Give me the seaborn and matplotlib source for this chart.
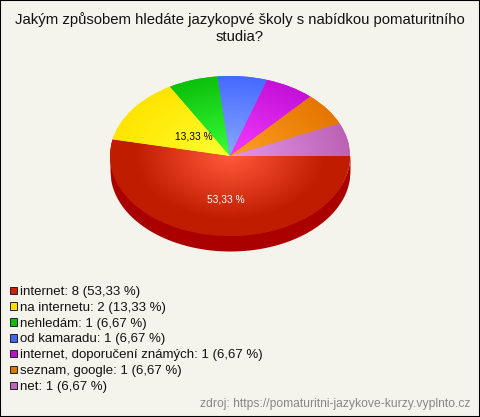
import numpy as np
import matplotlib
matplotlib.use('Agg')
import matplotlib.pyplot as plt
import seaborn as sns
from matplotlib.colors import LinearSegmentedColormap
from matplotlib.patches import Patch, Rectangle

# data
categories = ['internet', 'na internetu', 'nehledám', 'od kamaradu',
              'internet, doporučení známých', 'seznam, google', 'net']
counts = [8, 2, 1, 1, 1, 1, 1]
percents = ['53,33', '13,33', '6,67', '6,67', '6,67', '6,67', '6,67']
title = 'Jakým způsobem hledáte jazykopvé školy s nabídkou pomaturitního\nstudia?'
source = 'zdroj: https://pomaturitni-jazykove-kurzy.vyplnto.cz'

# colours: legend swatch, gradient centre, gradient rim, where the rim colour starts
swatch = ['#cc2200', '#ffdd00', '#11bb11', '#4466ee', '#bb11cc', '#dd7700', '#bb66bb']
inner = ['#ff5a3c', '#ffff30', '#38ff38', '#88a8ff', '#f53cff', '#ffa024', '#e496ea']
outer = ['#c01c00', '#ffe400', '#0cc00c', '#466aff', '#c410d8', '#e47600', '#bc62b4']
rim_at = [0.8, 1, 1, 1, 1, 1, 1]
bg = '#f5f4ec'
side = '#aa0000'

sns.set_theme(style='white')
plt.rcParams['font.family'] = ['Liberation Sans', 'DejaVu Sans']
palette = sns.color_palette(swatch)

fig = plt.figure(figsize=(4.8, 4.17), dpi=100, facecolor=bg)
ax = fig.add_axes([0, 0, 1, 1])

# ellipse centre at (230, 156) px, radii 120 x 80 px, side 15 px deep
depth = 15 / 80
wedges, _ = ax.pie(counts, startangle=0, counterclock=False, colors=outer,
                   wedgeprops={'linewidth': 0})

xs = np.linspace(-1, 1, 300)
ax.fill_between(xs, -np.sqrt(1 - xs**2) - depth, -np.sqrt(1 - xs**2) + 0.02,
                color=side, linewidth=0, zorder=0.5)

# radial gradient per slice
gx, gy = np.meshgrid(np.linspace(-1, 1, 400), np.linspace(-1, 1, 400))
rr = np.clip(np.sqrt(gx**2 + gy**2), 0, 1)
for w, c0, c1, stop in zip(wedges, inner, outer, rim_at):
    cmap = LinearSegmentedColormap.from_list('g', [(0, c0), (stop, c1), (1, c1)])
    im = ax.imshow(rr, extent=(-1, 1, -1, 1), origin='lower', cmap=cmap,
                   vmin=0, vmax=1, zorder=2, interpolation='bilinear')
    im.set_clip_path(w)

ax.set_aspect('auto')
ax.set_xlim(-230 / 120, 250 / 120)
ax.set_ylim((156 - 417) / 80, 156 / 80)
ax.axis('off')

# percent labels only on the two bigger slices
label_pos = {0: (-0.035, -0.55), 1: (-0.30, 0.24)}
label_col = {0: 'white', 1: 'black'}
for i, (lx, ly) in label_pos.items():
    ax.text(lx, ly, percents[i] + ' %', color=label_col[i],
            fontsize=7.3, ha='center', va='center', zorder=3)

fig.text(0.5, 1 - 28 / 417, title, ha='center', va='center', fontsize=10.7,
         color='#111111', linespacing=1.2)

handles = [Patch(facecolor=c, edgecolor='#222222', linewidth=0.7) for c in palette]
labels = [f'{n}: {v} ({p} %)' for n, v, p in zip(categories, counts, percents)]
fig.legend(handles, labels, loc='upper left', bbox_to_anchor=(10 / 480, 1 - 286 / 417),
           frameon=False, fontsize=9.5, labelcolor='#111111', handlelength=0.5,
           handleheight=0.5, handletextpad=0.27, labelspacing=0.29,
           borderpad=0, borderaxespad=0)

fig.text(470 / 480, 1 - 404 / 417, source, ha='right', va='center', fontsize=8.7,
         color='#888888')

fig.add_artist(Rectangle((0, 0), 1, 1, transform=fig.transFigure, fill=False,
                         edgecolor='black', linewidth=1.5))

plt.savefig('out.png', dpi=100, facecolor=bg)
plt.close()
